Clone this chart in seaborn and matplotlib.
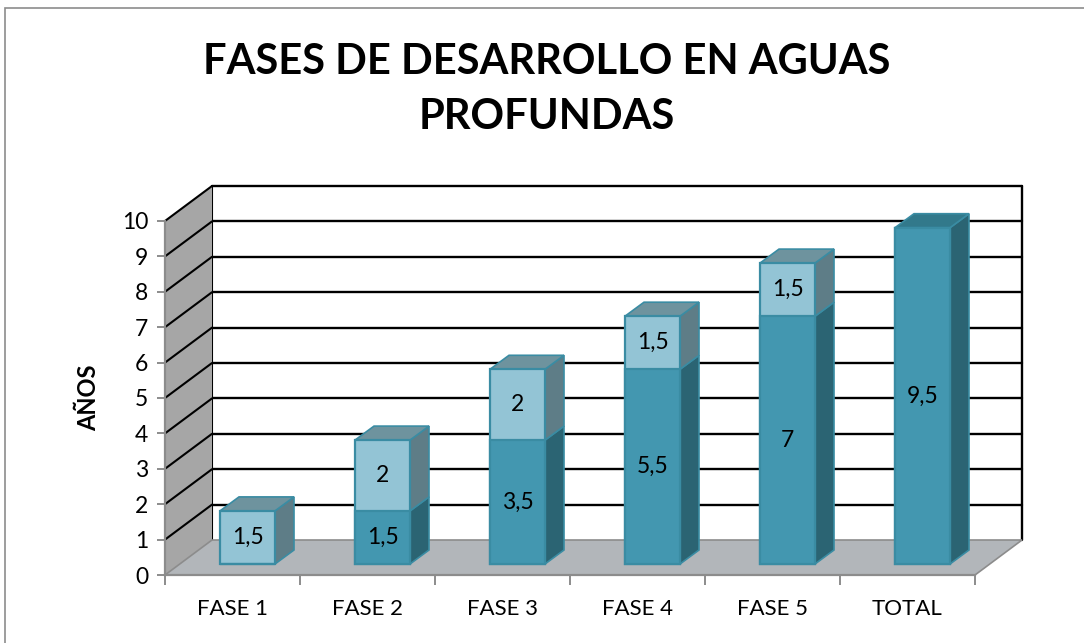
import numpy as np
import pandas as pd
import seaborn as sns
import matplotlib.pyplot as plt
from matplotlib.patches import Polygon, Rectangle
from matplotlib.transforms import ScaledTranslation

# ---- data -------------------------------------------------------------
categories = ["FASE 1", "FASE 2", "FASE 3", "FASE 4", "FASE 5", "TOTAL"]
base_years = [0, 1.5, 3.5, 5.5, 7, 9.5]     # years accumulated before each phase
phase_years = [1.5, 2, 2, 1.5, 1.5, 0]      # duration of each phase
y_ticks = list(range(0, 11))

title_lines = ["FASES DE DESARROLLO EN AGUAS", "PROFUNDAS"]
y_label = "AÑOS"

# ---- colours ----------------------------------------------------------
DARK, DARK_SIDE, DARK_TOP = "#4397B0", "#2B6473", "#32798B"
LIGHT, LIGHT_SIDE, LIGHT_TOP = "#93C4D5", "#5E7D87", "#6E939E"
EDGE = "#3A8CA3"
WALL = "#A6A6A6"
FLOOR = "#B2B6BA"
AXIS_GREY = "#8C8C8C"

sns.set_theme(style="white")
plt.rcParams["font.family"] = ["Lato", "DejaVu Sans"]
plt.rcParams["text.color"] = "black"
plt.rcParams["axes.labelcolor"] = "black"
plt.rcParams["xtick.color"] = "black"
plt.rcParams["ytick.color"] = "black"

W_PX, H_PX = 1084, 643
fig = plt.figure(figsize=(W_PX / 100, H_PX / 100), dpi=100)
fig.patch.set_facecolor("white")

# front plane of the pseudo-3D box
L, R, B, T = 165, 975, 575, 221
ax = fig.add_axes([L / W_PX, 1 - B / H_PX, (R - L) / W_PX, (B - T) / H_PX])

df = pd.DataFrame({"fase": categories, "base": base_years, "fase_anos": phase_years})
df["total"] = df["base"] + df["fase_anos"]

ppx = (R - L) / 6.0
ppy = (B - T) / 10.0


def px(dx, dy):
    return dx / ppx, dy / ppy


def fmt(v):
    return f"{v:g}".replace(".", ",")


BX, BY = px(47, 35)          # depth of the back wall
DX, DY = px(19, 14)          # depth of each column
BAR_W = 55 / ppx
bar_shift = ax.transData + ScaledTranslation(0.15, 0.11, fig.dpi_scale_trans)

# ---- front faces of the columns (seaborn) ----------------------------
sns.barplot(data=df, x="fase", y="total", color=LIGHT, saturation=1,
            width=BAR_W, edgecolor=EDGE, linewidth=1.6, ax=ax, zorder=6)
sns.barplot(data=df, x="fase", y="base", color=DARK, saturation=1,
            width=BAR_W, edgecolor=EDGE, linewidth=1.6, ax=ax, zorder=7)
for p in ax.patches:
    p.set_transform(bar_shift)
    p.set_clip_on(False)

ax.set_xlim(-0.5, 5.5)
ax.set_ylim(0, 10)

# ---- back wall --------------------------------------------------------
x0, x1 = -0.5, 5.5
for k in y_ticks[1:]:
    ax.plot([x0 + BX, x1 + BX], [k + BY, k + BY], color="black", lw=1.7,
            clip_on=False, zorder=1)
ax.plot([x0 + BX, x0 + BX], [BY, 10 + BY], color="black", lw=1.5, clip_on=False, zorder=1)
ax.plot([x1 + BX, x1 + BX], [BY, 10 + BY], color="black", lw=1.7, clip_on=False, zorder=1)

# ---- side wall --------------------------------------------------------
ax.add_patch(Polygon([(x0, 0), (x0, 10), (x0 + BX, 10 + BY), (x0 + BX, BY)],
                     closed=True, facecolor=WALL, edgecolor="none",
                     clip_on=False, zorder=1.5))
for k in y_ticks[1:]:
    ax.plot([x0, x0 + BX], [k, k + BY], color="black", lw=1.5,
            clip_on=False, zorder=1.6)

# ---- floor ------------------------------------------------------------
ax.add_patch(Polygon([(x0, 0), (x1, 0), (x1 + BX, BY), (x0 + BX, BY)],
                     closed=True, facecolor=FLOOR, edgecolor=AXIS_GREY, lw=1.2,
                     clip_on=False, zorder=3))

# ---- side and top faces of the columns, value labels ------------------
for i, (b, h) in enumerate(zip(base_years, phase_years)):
    xl, xr = i - BAR_W / 2, i + BAR_W / 2
    t = b + h
    if b > 0:
        ax.add_patch(Polygon([(xr, 0), (xr, b), (xr + DX, b + DY), (xr + DX, DY)],
                             closed=True, facecolor=DARK_SIDE, edgecolor=EDGE, lw=1.2,
                             transform=bar_shift, clip_on=False, zorder=5))
        ax.text(i, b / 2, fmt(b), ha="center", va="center", fontsize=16.5,
                color="black", transform=bar_shift, zorder=9)
    if h > 0:
        ax.add_patch(Polygon([(xr, b), (xr, t), (xr + DX, t + DY), (xr + DX, b + DY)],
                             closed=True, facecolor=LIGHT_SIDE, edgecolor=EDGE, lw=1.2,
                             transform=bar_shift, clip_on=False, zorder=5))
        ax.text(i, b + h / 2, fmt(h), ha="center", va="center", fontsize=16.5,
                color="black", transform=bar_shift, zorder=9)
    top_col = LIGHT_TOP if h > 0 else DARK_TOP
    ax.add_patch(Polygon([(xl, t), (xr, t), (xr + DX, t + DY), (xl + DX, t + DY)],
                         closed=True, facecolor=top_col, edgecolor=EDGE, lw=1.2,
                         transform=bar_shift, clip_on=False, zorder=5))

# ---- axes -------------------------------------------------------------
for s in ["top", "right"]:
    ax.spines[s].set_visible(False)
for s in ["left", "bottom"]:
    ax.spines[s].set_visible(True)
    ax.spines[s].set_color(AXIS_GREY)
    ax.spines[s].set_linewidth(1.6)
    ax.spines[s].set_zorder(4)

ax.set_yticks(y_ticks)
ax.set_yticklabels([str(v) for v in y_ticks])
ax.set_xticks(range(len(categories)))
ax.set_xticklabels(categories)
ax.set_xticks(np.arange(-0.5, 6, 1.0), minor=True)
ax.tick_params(axis="y", left=True, length=6, width=1.4, color=AXIS_GREY,
               labelcolor="black", labelsize=16.5, pad=6)
ax.tick_params(axis="x", which="major", bottom=True, length=0, labelcolor="black",
               labelsize=16, pad=17)
ax.tick_params(axis="x", which="minor", bottom=True, length=7, width=1.4,
               color=AXIS_GREY)
ax.set_xlabel("")
ax.set_ylabel("")
ax.set_facecolor("none")
ax.grid(False)

fig.text(89 / W_PX, 1 - 398 / H_PX, y_label, rotation=90, ha="center", va="center",
         fontsize=17, fontweight="bold", color="black")

fig.text(547 / W_PX, 1 - 62 / H_PX, title_lines[0], ha="center", va="center",
         fontsize=30, fontweight="bold", color="black")
fig.text(547 / W_PX, 1 - 117 / H_PX, title_lines[1], ha="center", va="center",
         fontsize=30, fontweight="bold", color="black")

# chart-area border
fig.add_artist(Rectangle((5 / W_PX, -0.05), 1.2, 1.05 - 8 / H_PX,
                         transform=fig.transFigure, fill=False,
                         edgecolor=AXIS_GREY, lw=1.2))

fig.savefig("out.png", dpi=100)
